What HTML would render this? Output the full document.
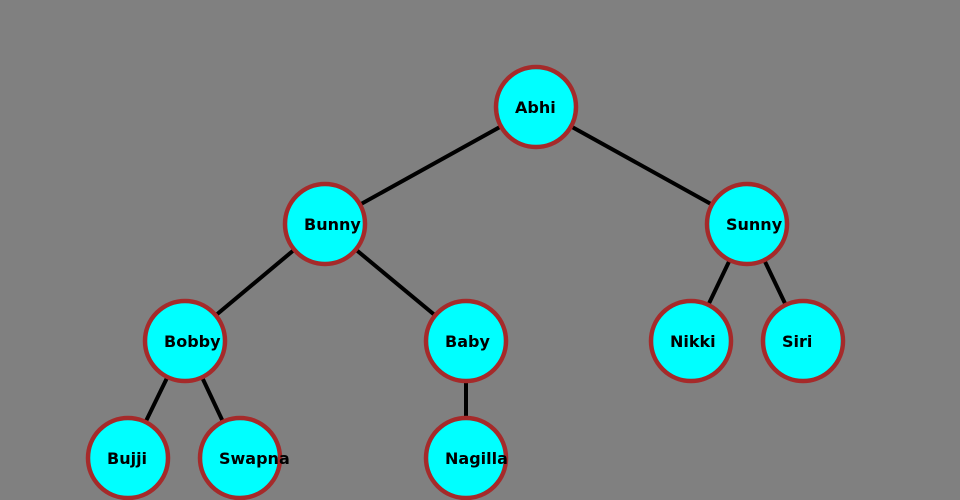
<!DOCTYPE html>
<html><head><meta charset="utf-8"><style>
html,body{margin:0;padding:0;background:#808080;}
svg{display:block;}
text{font-family:"DejaVu Sans","Liberation Sans",sans-serif;font-weight:bold;font-size:16px;fill:#000;}
</style></head><body>
<svg width="960" height="500" viewBox="0 0 960 500">
<g stroke="#000" stroke-width="4">
<line x1="536" y1="107" x2="325" y2="224"/>
<line x1="536" y1="107" x2="747" y2="224"/>
<line x1="325" y1="224" x2="185" y2="341"/>
<line x1="325" y1="224" x2="466" y2="341"/>
<line x1="747" y1="224" x2="691" y2="341"/>
<line x1="747" y1="224" x2="803" y2="341"/>
<line x1="185" y1="341" x2="128" y2="458"/>
<line x1="185" y1="341" x2="240" y2="458"/>
<line x1="466" y1="341" x2="466" y2="458"/>
</g>
<g fill="#00ffff" stroke="#a52a2a" stroke-width="4.5">
<circle cx="536" cy="107" r="40"/>
<circle cx="325" cy="224" r="40"/>
<circle cx="747" cy="224" r="40"/>
<circle cx="185" cy="341" r="40"/>
<circle cx="466" cy="341" r="40"/>
<circle cx="691" cy="341" r="40"/>
<circle cx="803" cy="341" r="40"/>
<circle cx="128" cy="458" r="40"/>
<circle cx="240" cy="458" r="40"/>
<circle cx="466" cy="458" r="40"/>
</g>
<text x="515" y="113">Abhi</text>
<text x="304" y="230">Bunny</text>
<text x="726" y="230">Sunny</text>
<text x="164" y="347">Bobby</text>
<text x="445" y="347">Baby</text>
<text x="670" y="347">Nikki</text>
<text x="782" y="347">Siri</text>
<text x="107" y="464">Bujji</text>
<text x="219" y="464">Swapna</text>
<text x="445" y="464">Nagilla</text>
</svg>
</body></html>
